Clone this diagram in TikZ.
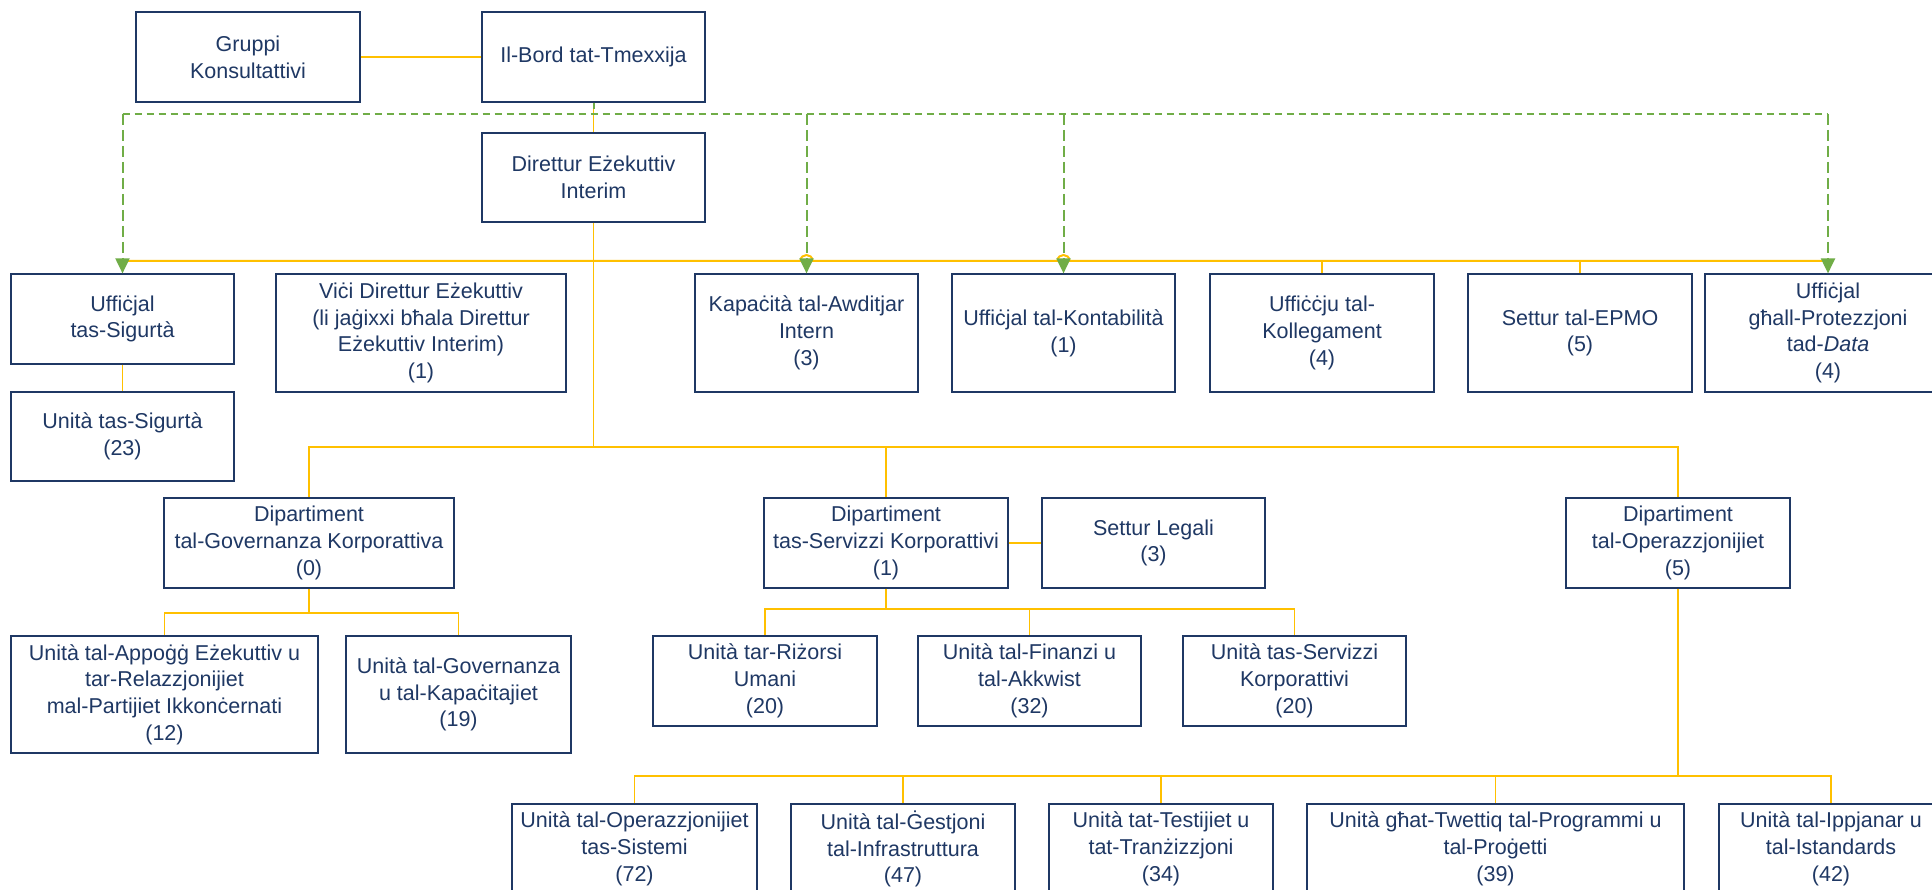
\documentclass[tikz,border=0pt]{standalone}
\usepackage{fontspec}
\setmainfont{Liberation Sans}
\usepackage{tikz}
\usetikzlibrary{arrows.meta, calc}

\definecolor{boxblue}{RGB}{31,56,100}
\definecolor{linkyellow}{RGB}{255,192,0}
\definecolor{dotgreen}{RGB}{112,173,71}

\begin{document}
\begin{tikzpicture}[x=1pt, y=-1pt,
    box/.style={draw=boxblue, line width=1.2pt, fill=white, text=boxblue,
        align=center, inner sep=2pt, font=\fontsize{21.5}{26.7}\selectfont},
    yline/.style={draw=linkyellow, line width=1.6pt},
    gline/.style={draw=dotgreen, line width=2.8pt, dash pattern=on 7pt off 5pt},
    garrow/.style={draw=dotgreen, line width=2pt, dash pattern=on 11pt off 5pt,
        -{Triangle[width=14pt,length=15pt]}}]

\useasboundingbox (0,0) rectangle (1932,890);
\clip (0,0) rectangle (1932,890);
\fill[white] (0,0) rectangle (1932,890);

% bus levels
\coordinate (gbus) at (0,114);
\coordinate (bus1) at (0,261);
\coordinate (bus2) at (0,447);
\coordinate (busG) at (0,613);
\coordinate (busS) at (0,609);
\coordinate (busO) at (0,776);

% =========================================================
%  TOP: board and executive
% =========================================================
\node[box, minimum width=224pt, minimum height=90pt] (gruppi) at (248,57)
    {Gruppi\\Konsultattivi};
\node[box, minimum width=223pt, minimum height=90pt] (bord) at (593.5,57)
    {Il-Bord tat-Tmexxija};
\node[box, minimum width=223pt, minimum height=89pt] (dei) at (593.5,177.5)
    {Direttur Eżekuttiv\\Interim};

% =========================================================
%  ROW 1: offices under the executive
% =========================================================
\node[box, minimum width=223pt, minimum height=90pt] (usig) at (122.5,319)
    {Uffiċjal\\tas-Sigurtà};
\node[box, minimum width=223pt, minimum height=89pt] (unsig) at (122.5,436.5)
    {Unità tas-Sigurtà\\(23)};
\node[box, minimum width=290pt, minimum height=118pt] (vici) at (421,333)
    {Viċi Direttur Eżekuttiv\\(li jaġixxi bħala Direttur\\Eżekuttiv Interim)\\(1)};
\node[box, minimum width=223pt, minimum height=118pt] (kap) at (806.5,333)
    {Kapaċità tal-Awditjar\\Intern\\(3)};
\node[box, minimum width=223pt, minimum height=118pt] (kont) at (1063.5,333)
    {Uffiċjal tal-Kontabilità\\(1)};
\node[box, minimum width=224pt, minimum height=118pt] (koll) at (1322,333)
    {Uffiċċju tal-\\Kollegament\\(4)};
\node[box, minimum width=224pt, minimum height=118pt] (epmo) at (1580,333)
    {Settur tal-EPMO\\(5)};
\node[box, minimum width=246pt, minimum height=118pt] (data) at (1828,333)
    {Uffiċjal\\għall-Protezzjoni\\tad-\textit{Data}\\(4)};

% =========================================================
%  ROW 2: departments
% =========================================================
\node[box, minimum width=290pt, minimum height=90pt] (dgk) at (309,543)
    {Dipartiment\\tal-Governanza Korporattiva\\(0)};
\node[box, minimum width=244pt, minimum height=90pt] (dsk) at (886,543)
    {Dipartiment\\tas-Servizzi Korporattivi\\(1)};
\node[box, minimum width=223pt, minimum height=90pt] (legali) at (1153.5,543)
    {Settur Legali\\(3)};
\node[box, minimum width=224pt, minimum height=90pt] (dop) at (1678,543)
    {Dipartiment\\tal-Operazzjonijiet\\(5)};

% =========================================================
%  ROW 3 / 4: units
% =========================================================
\node[box, minimum width=307pt, minimum height=117pt] (appogg) at (164.5,694.5)
    {Unità tal-Appoġġ Eżekuttiv u\\tar-Relazzjonijiet\\mal-Partijiet Ikkonċernati\\(12)};
\node[box, minimum width=225pt, minimum height=117pt] (gov) at (458.5,694.5)
    {Unità tal-Governanza\\u tal-Kapaċitajiet\\(19)};

\node[box, minimum width=224pt, minimum height=90pt] (rizorsi) at (765,681)
    {Unità tar-Riżorsi\\Umani\\(20)};
\node[box, minimum width=223pt, minimum height=90pt] (finanzi) at (1029.5,681)
    {Unità tal-Finanzi u\\tal-Akkwist\\(32)};
\node[box, minimum width=223pt, minimum height=90pt] (servizzi) at (1294.5,681)
    {Unità tas-Servizzi\\Korporattivi\\(20)};

\node[box, minimum width=245pt, minimum height=90pt] (sysops) at (634.5,849)
    {Unità tal-Operazzjonijiet\\tas-Sistemi\\(72)};
\node[box, minimum width=224pt, minimum height=90pt] (gestjoni) at (903,849)
    {Unità tal-Ġestjoni\\tal-Infrastruttura\\(47)};
\node[box, minimum width=224pt, minimum height=90pt] (testijiet) at (1161,849)
    {Unità tat-Testijiet u\\tat-Tranżizzjoni\\(34)};
\node[box, minimum width=377pt, minimum height=90pt] (programmi) at (1495.5,849)
    {Unità għat-Twettiq tal-Programmi u\\tal-Proġetti\\(39)};
\node[box, minimum width=224pt, minimum height=90pt] (ippjanar) at (1831,849)
    {Unità tal-Ippjanar u\\tal-Istandards\\(42)};

% =========================================================
%  CONNECTORS
% =========================================================
\draw[yline] (gruppi.east) -- (bord.west);
\draw[yline] (bord.south) -- (dei.north);

% row 1 bus, hopping over the green links
\draw[yline, line width=2pt] (usig.north |- bus1)
    -- ($(kap.north |- bus1)+(-6,0)$)
       .. controls +(0,-8) and +(0,-8) .. ($(kap.north |- bus1)+(6,0)$)
    -- ($(kont.north |- bus1)+(-6,0)$)
       .. controls +(0,-8) and +(0,-8) .. ($(kont.north |- bus1)+(6,0)$)
    -- (data.north |- bus1);
\foreach \n in {koll,epmo}
    \draw[yline] (\n.north |- bus1) -- (\n.north);
\draw[yline] (usig.south) -- (unsig.north);

% dotted reporting lines from the board
\draw[dotgreen, line width=2pt] (bord.south) -- ++(0,6);
\draw[gline] (usig.north |- gbus) -- (data.north |- gbus);
\foreach \n in {usig,kap,kont,data}
    \draw[garrow] (\n.north |- gbus) -- (\n.north);

% departments
\draw[yline] (dei.south) -- (dei.south |- bus2);
\foreach \n in {dgk,dsk,dop}
    \draw[yline] (dei.south |- bus2) -| (\n.north);
\draw[yline] (dsk.east) -- (legali.west);

% units
\draw[yline] (dgk.south) -- (dgk.south |- busG);
\foreach \n in {appogg,gov}
    \draw[yline] (dgk.south |- busG) -| (\n.north);

\draw[yline] (dsk.south) -- (dsk.south |- busS);
\foreach \n in {rizorsi,finanzi,servizzi}
    \draw[yline] (dsk.south |- busS) -| (\n.north);

\draw[yline] (dop.south) -- (dop.south |- busO);
\foreach \n in {sysops,gestjoni,testijiet,programmi,ippjanar}
    \draw[yline] (dop.south |- busO) -| (\n.north);

\end{tikzpicture}
\end{document}
